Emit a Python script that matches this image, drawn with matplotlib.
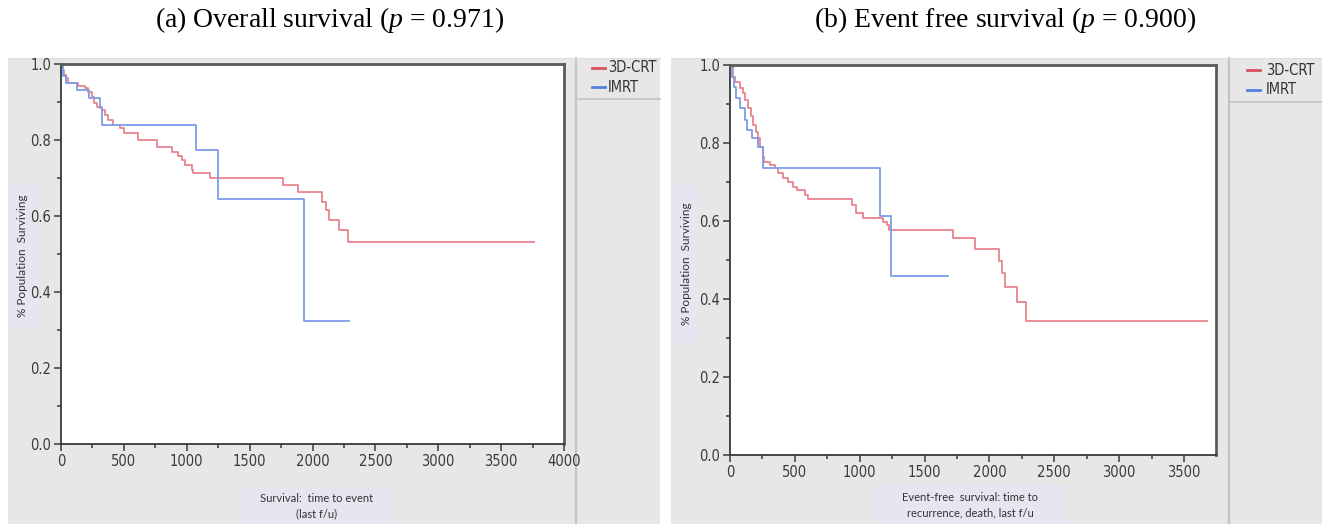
import matplotlib
matplotlib.use('Agg')
import matplotlib.pyplot as plt
from matplotlib.patches import Rectangle
from matplotlib.lines import Line2D
from matplotlib.ticker import MultipleLocator, FormatStrFormatter
from matplotlib import font_manager

plt.rcParams['mathtext.fontset'] = 'custom'
plt.rcParams['mathtext.it'] = 'Liberation Serif:italic'
plt.rcParams['mathtext.rm'] = 'Liberation Serif'

# overall survival (time in days, fraction surviving)
os_crt_t = [0, 13, 24, 40, 59, 138, 191, 218, 244, 265, 289, 323, 350, 376, 416, 469, 501, 615,
            761, 880, 934, 960, 987, 1039, 1050, 1185, 1768, 1887, 2073, 2107, 2134, 2213, 2280, 3764]
os_crt_s = [1.0, 0.984, 0.971, 0.962, 0.949, 0.942, 0.936, 0.927, 0.914, 0.898, 0.888, 0.879, 0.866,
            0.853, 0.839, 0.831, 0.818, 0.800, 0.781, 0.769, 0.758, 0.748, 0.734, 0.721, 0.712, 0.699,
            0.682, 0.664, 0.638, 0.616, 0.589, 0.563, 0.531, 0.531]
os_imrt_t = [0, 15, 40, 125, 226, 313, 325, 1074, 1251, 1932, 2290]
os_imrt_s = [1.0, 0.968, 0.949, 0.932, 0.910, 0.884, 0.839, 0.775, 0.645, 0.323, 0.323]

# event free survival
efs_crt_t = [0, 21, 39, 77, 103, 116, 141, 159, 180, 200, 219, 231, 257, 262, 308, 350, 373, 411,
             450, 488, 514, 578, 604, 938, 971, 1023, 1182, 1208, 1228, 1717, 1889, 2077, 2095,
             2120, 2210, 2279, 3675]
efs_crt_s = [1.0, 0.970, 0.957, 0.940, 0.927, 0.910, 0.889, 0.868, 0.846, 0.829, 0.812, 0.791,
             0.765, 0.752, 0.744, 0.735, 0.722, 0.711, 0.701, 0.688, 0.679, 0.667, 0.656, 0.641,
             0.620, 0.607, 0.598, 0.590, 0.577, 0.556, 0.528, 0.498, 0.466, 0.432, 0.392, 0.344,
             0.344]
efs_imrt_t = [0, 12, 30, 50, 80, 115, 130, 170, 215, 257, 1157, 1241, 1683]
efs_imrt_s = [1.0, 0.970, 0.944, 0.915, 0.889, 0.860, 0.833, 0.812, 0.790, 0.735, 0.613, 0.459, 0.459]

groups = ['3D-CRT', 'IMRT']
titles = ['(a) Overall survival ($p$ = 0.971)', '(b) Event free survival ($p$ = 0.900)']
xlabels = ['Survival:  time to event\n(last f/u)', 'Event-free  survival: time to\nrecurrence, death, last f/u']
ylabel = '% Population  Surviving'

W, H = 1322, 524
red_line, blue_line = '#e8838c', '#7d9deb'
red_leg, blue_leg = '#d9505c', '#5580e0'
gray, lav, sep = '#e7e7e7', '#e9e5f0', '#c4c4c4'
labfont = ['Lato', 'DejaVu Sans']
tickprop = font_manager.FontProperties(family='DejaVu Sans', stretch='condensed', size=10.5)

fig = plt.figure(figsize=(W / 100, H / 100), dpi=100)
fig.patch.set_facecolor('white')


def fx(px):
    return px / W


def fy(py):
    return 1 - py / H


def box(x0, y0, x1, y1, color):
    fig.add_artist(Rectangle((fx(x0), fy(y1)), (x1 - x0) / W, (y1 - y0) / H,
                             transform=fig.transFigure, facecolor=color, edgecolor='none', zorder=-2))


def hline(x0, x1, y, color, lw):
    fig.add_artist(Line2D([fx(x0), fx(x1)], [fy(y), fy(y)], transform=fig.transFigure,
                          color=color, lw=lw, zorder=-1))


def vline(x, y0, y1, color, lw):
    fig.add_artist(Line2D([fx(x), fx(x)], [fy(y0), fy(y1)], transform=fig.transFigure,
                          color=color, lw=lw, zorder=-1))


panels = [
    dict(gray=(8, 58, 660), sep=576, ax=(61, 64, 564, 444), xmax=4000, xt=4000,
         ylab=(8, 185, 37, 327), xlab=(241, 487, 392, 524), leg=(592, 605, 608, 68, 87), legbot=99,
         title=330, data=[(os_crt_t, os_crt_s), (os_imrt_t, os_imrt_s)]),
    dict(gray=(671, 58, 1322), sep=1229, ax=(730, 65, 1216, 455), xmax=3747, xt=3500,
         ylab=(672, 185, 700, 343), xlab=(874, 485, 1066, 524), leg=(1247, 1260, 1266, 70, 90), legbot=102,
         title=1005, data=[(efs_crt_t, efs_crt_s), (efs_imrt_t, efs_imrt_s)]),
]

for i, p in enumerate(panels):
    gx0, gy0, gx1 = p['gray']
    box(gx0, gy0, gx1, H, gray)
    vline(p['sep'], gy0, H, sep, 1.6)
    hline(p['sep'], gx1, p['legbot'], sep, 1.2)
    hline(gx0, gx1, gy0, '#dedede', 0.8)

    # legend
    lx0, lx1, tx, y1, y2 = p['leg']
    for (name, c, yy) in [(groups[0], red_leg, y1), (groups[1], blue_leg, y2)]:
        hline(lx0, lx1, yy, c, 2.0)
        fig.text(fx(tx), fy(yy), name, ha='left', va='center', fontproperties=tickprop,
                 fontsize=10.5, color='#333333')

    # y label box
    x0, y0, x1, y1b = p['ylab']
    box(x0, y0, x1, y1b, lav)
    fig.text(fx((x0 + x1) / 2), fy((y0 + y1b) / 2), ylabel, rotation=90, ha='center', va='center',
             fontsize=8.5, family=labfont, color='#333333')

    # x label box
    x0, y0, x1, y1b = p['xlab']
    box(x0, y0, x1, y1b, lav)
    fig.text(fx((x0 + x1) / 2), fy((y0 + y1b) / 2 + 1), xlabels[i], ha='center', va='center',
             fontsize=8, family=labfont, color='#333333', linespacing=1.45)

    # title
    fig.text(fx(p['title']), fy(20), titles[i], ha='center', va='center', fontsize=20,
             family='Liberation Serif', color='black')

    ax0, ay0, ax1, ay1 = p['ax']
    ax = fig.add_axes([fx(ax0), fy(ay1), (ax1 - ax0) / W, (ay1 - ay0) / H])
    ax.set_facecolor('white')
    for (t, s), c in zip(p['data'], [red_line, blue_line]):
        ax.step(t, s, where='post', color=c, lw=1.3)
    ax.set_xlim(0, p['xmax'])
    ax.set_ylim(0, 1.0)
    ax.xaxis.set_major_locator(MultipleLocator(500))
    ax.xaxis.set_minor_locator(MultipleLocator(250))
    ax.yaxis.set_major_locator(MultipleLocator(0.2))
    ax.yaxis.set_minor_locator(MultipleLocator(0.1))
    ax.yaxis.set_major_formatter(FormatStrFormatter('%.1f'))
    ax.set_xticks(range(0, p['xt'] + 1, 500))
    for side in ['left', 'bottom']:
        ax.spines[side].set_color('#3a3a3a')
        ax.spines[side].set_linewidth(1.3)
    for side in ['top', 'right']:
        ax.spines[side].set_color('#5a5a5a')
        ax.spines[side].set_linewidth(2.0)
    ax.tick_params(which='major', direction='out', length=5, width=1.1, color='#3a3a3a',
                   labelcolor='#3a3a3a', pad=2)
    ax.tick_params(which='minor', direction='out', length=3, width=1.1, color='#3a3a3a')
    for lab in ax.get_xticklabels() + ax.get_yticklabels():
        lab.set_fontproperties(tickprop)

fig.savefig('out.png', dpi=100)
